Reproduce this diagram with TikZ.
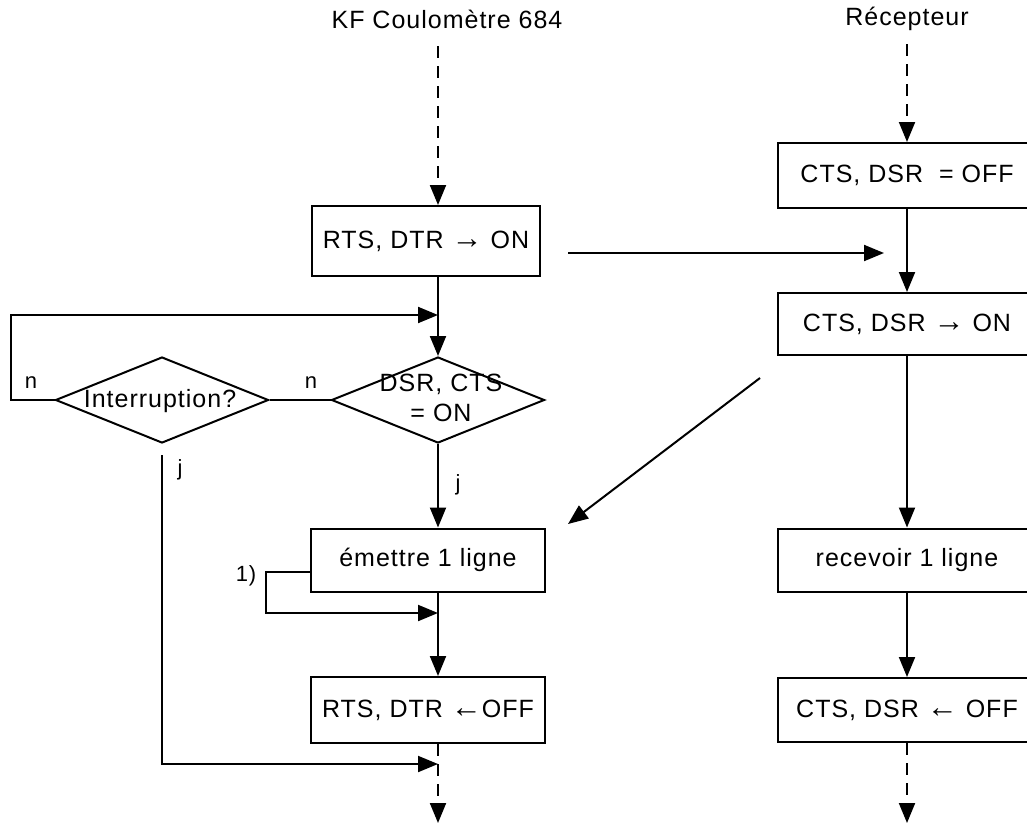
\documentclass[tikz,border=0pt]{standalone}
\usepackage{fontspec}
\setmainfont{Liberation Sans}[LetterSpace=4]
\usetikzlibrary{arrows.meta,shapes.geometric}
% larger arrow glyphs inside the box texts
\newcommand\ArrR{{\fontsize{31}{31}\selectfont →}}
\newcommand\ArrL{{\fontsize{31}{31}\selectfont ←}}
\begin{document}
\begin{tikzpicture}[x=1pt,y=-1pt,line width=2pt,
  txt/.style={font=\fontsize{25}{30}\selectfont},
  tag/.style={font=\fontsize{22}{26}\selectfont},
  box/.style={draw,minimum width=234pt,minimum height=64pt,inner sep=0pt,txt},
  rbox/.style={box,minimum width=258pt},
  dec/.style={draw,diamond,minimum width=213pt,minimum height=86pt,inner sep=0pt},
  arr/.style={-{Triangle[length=20pt,width=16pt]}},
  dsh/.style={dash pattern=on 12pt off 8pt}]
\useasboundingbox (0,0) rectangle (1027,825);
\clip (0,0) rectangle (1027,825);

% column axes
\coordinate (cL) at (438,0);
\coordinate (cR) at (907,0);

% headings
\node[txt] (t1) at (447,19) {KF Coulomètre 684};
\node[txt] (t2) at (907,19) {Récepteur};

% sender column
\node[box,minimum width=228pt,minimum height=70pt] (a1) at (426,241) {RTS, DTR \ArrR\ ON};
\node[dec] (d1) at (438,400) {};
\node[txt,align=center] (d1t) at (441,398) {DSR, CTS\\= ON};
\node[dec] (d2) at (162,400) {};
\node[txt] (d2t) at (160,401) {Interruption?};
\node[box,minimum height=63pt] (a2) at (428,560) {émettre 1 ligne};
\node[box,minimum height=66pt] (a3) at (428,710) {RTS, DTR \ArrL OFF};

% receiver column
\node[rbox,minimum height=65pt] (b1) at (907,175.5) {CTS, DSR\ \ = OFF};
\node[rbox,minimum height=62pt] (b2) at (907,324) {CTS, DSR \ArrR\ ON};
\node[rbox,minimum height=63pt] (b3) at (907,560) {recevoir 1 ligne};
\node[rbox,minimum height=64pt] (b4) at (907,710) {CTS, DSR \ArrL\ OFF};

% free ends of connectors
\coordinate (s1) at (438,46);
\coordinate (s2) at (907,44);
\coordinate (e1) at (438,823);
\coordinate (e2) at (907,823);
\coordinate (lp) at (11,315);
\coordinate (lpe) at (438,315);
\coordinate (js) at (162,455);
\coordinate (je) at (438,764);
\coordinate (re) at (438,613);
\coordinate (h1) at (884,253);
\coordinate (dg1) at (760,378);
\coordinate (dg2) at (568,524);

% sender flow
\draw[arr,dsh] (s1) -- (a1.north -| cL);
\draw[arr] (a1.south -| cL) -- (d1.north);
\draw[arr] (d2.west) -| (lp) -- (lpe);
\draw (d2.east) -- (d1.west);
\draw[arr] (d1.south) -- (a2.north -| cL);
\draw[arr] (js) |- (je);
\draw[arr] ([yshift=-12pt]a2.west) -- ++(-44,0) |- (re);
\draw[arr] (a2.south -| cL) -- (a3.north -| cL);
\draw[arr,dsh] (a3.south -| cL) -- (e1);

% receiver flow
\draw[arr,dsh] (s2) -- (b1.north);
\draw[arr] (b1.south) -- (b2.north);
\draw[arr] (b2.south) -- (b3.north);
\draw[arr] (b3.south) -- (b4.north);
\draw[arr,dsh] (b4.south) -- (e2);

% handshake between the two sides
\draw[arr] ([xshift=27pt,yshift=-12pt]a1.east) -- (h1);
\draw[arr] (dg1) -- (dg2);

% branch labels
\node[tag] (n1) at (31,383) {n};
\node[tag] (n2) at (311,383) {n};
\node[tag] (j1) at (458,485) {j};
\node[tag] (j2) at (180,470) {j};
\node[tag] (k1) at (246,576) {1)};
\end{tikzpicture}
\end{document}
